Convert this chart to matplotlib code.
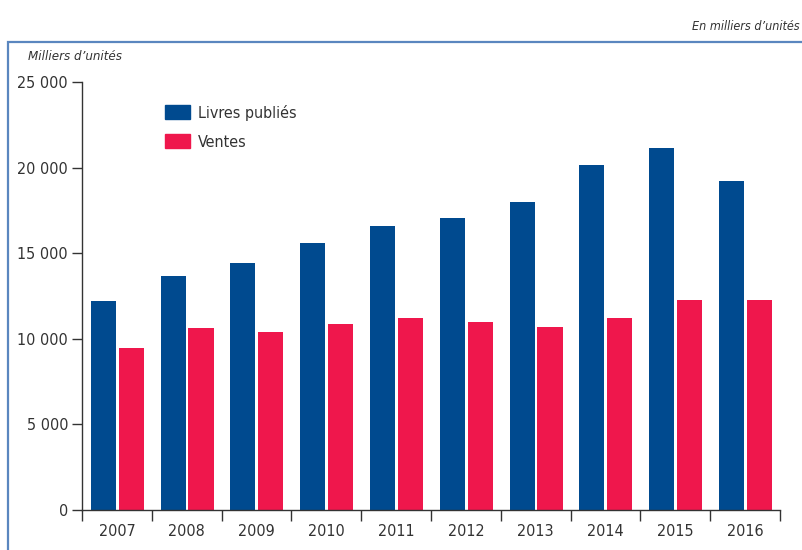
import numpy as np
import matplotlib.pyplot as plt
from matplotlib.patches import Rectangle, Patch
from matplotlib.ticker import FuncFormatter

plt.rcParams['font.family'] = ['DejaVu Sans']
plt.rcParams['font.stretch'] = 'condensed'

# Données (milliers d'unités)
annees = ['2007', '2008', '2009', '2010', '2011', '2012', '2013', '2014', '2015', '2016']
livres_publies = [12200, 13650, 14420, 15590, 16580, 17050, 17980, 20140, 21130, 19200]
ventes = [9460, 10620, 10390, 10860, 11210, 10970, 10680, 11210, 12260, 12260]

bleu = '#004a8f'
rouge = '#ef174c'
gris = '#333333'

fig = plt.figure(figsize=(8.02, 5.5), dpi=100)
ax = fig.add_axes([82 / 802, 40 / 550, 698 / 802, 428 / 550])

# Cadre bleu autour du graphique
fig.patches.append(Rectangle((8 / 802, -0.05), 1.0, (550 - 42) / 550 + 0.05,
                             transform=fig.transFigure, fill=False,
                             edgecolor='#5a86bf', linewidth=1.6))

x = np.arange(len(annees))
largeur = 0.36
ax.bar(x - 0.195, livres_publies, largeur, color=bleu, label='Livres publiés')
ax.bar(x + 0.205, ventes, largeur, color=rouge, label='Ventes')

ax.set_xlim(-0.5, len(annees) - 0.5)
ax.set_ylim(0, 25000)
ax.set_yticks(np.arange(0, 25001, 5000))
ax.yaxis.set_major_formatter(FuncFormatter(lambda v, p: f'{int(v):,}'.replace(',', ' ')))

# graduations x aux limites des catégories, étiquettes au centre
ax.set_xticks(np.arange(-0.5, len(annees), 1.0))
ax.set_xticklabels([])
ax.set_xticks(x, minor=True)
ax.set_xticklabels(annees, minor=True)
ax.tick_params(axis='x', which='major', length=8, width=1, color=gris)
ax.tick_params(axis='x', which='minor', length=0, pad=10, labelsize=11.5, labelcolor=gris)
ax.tick_params(axis='y', length=7, width=1, color=gris, pad=3, labelsize=11.5, labelcolor=gris)

for s in ['top', 'right']:
    ax.spines[s].set_visible(False)
for s in ['left', 'bottom']:
    ax.spines[s].set_color(gris)
    ax.spines[s].set_linewidth(1)

leg = ax.legend(handles=[Patch(color=bleu, label='Livres publiés'),
                         Patch(color=rouge, label='Ventes')],
                loc='upper left', bbox_to_anchor=(0.098, 0.981), frameon=False,
                fontsize=11.5, handlelength=1.6, handleheight=1.0,
                labelspacing=0.85, handletextpad=0.45)
for t in leg.get_texts():
    t.set_color(gris)

fig.text(800 / 802, 1 - 27 / 550, 'En milliers d\u2019unités', ha='right', va='center',
         style='italic', fontsize=9, color=gris)
fig.text(28 / 802, 1 - 56 / 550, 'Milliers d\u2019unités', ha='left', va='center',
         style='italic', fontsize=9.5, color=gris)

fig.savefig('out.png', dpi=100)
